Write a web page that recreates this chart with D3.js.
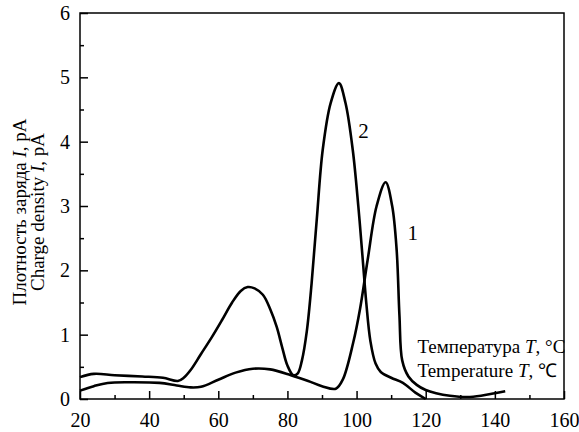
<!DOCTYPE html>
<html>
<head>
<meta charset="utf-8">
<script src="https://cdn.jsdelivr.net/npm/d3@7"></script>
<style>
  body { margin: 0; background: #fff; }
  svg text { font-family: "Liberation Serif", "Times New Roman", serif; fill: #000; }
</style>
</head>
<body>
<svg id="chart" width="579" height="432"></svg>
<script>
// curve 1: temperature (°C) and charge density (pA)
let temp1 = [20, 24, 28, 35, 43, 48, 52, 55, 60, 65, 70, 75, 81, 86, 90, 94, 96, 99, 101, 103.2, 105.8, 108.4, 110.3, 111.6, 112.4, 113.2, 115, 117.4, 120, 123, 127, 132, 136, 140, 143]
let dens1 = [0.13, 0.2, 0.25, 0.26, 0.25, 0.21, 0.18, 0.19, 0.3, 0.41, 0.47, 0.46, 0.37, 0.28, 0.2, 0.16, 0.3, 0.87, 1.4, 2.16, 3.0, 3.37, 3.0, 2.31, 1.3, 0.6, 0.35, 0.22, 0.14, 0.09, 0.05, 0.03, 0.05, 0.09, 0.12]

// curve 2
let temp2 = [20, 24, 30, 38, 44, 48.3, 50, 52, 55, 58, 61, 64, 66.5, 68.5, 70.5, 72.9, 75, 76.9, 78.5, 80, 81.7, 83, 84.2, 85.6, 87, 88.5, 90.2, 92.5, 94.9, 96.8, 98.9, 100.5, 101.8, 102.8, 104, 105.5, 107, 110, 113.4, 117, 120]
let dens2 = [0.34, 0.39, 0.37, 0.35, 0.33, 0.28, 0.33, 0.45, 0.7, 0.95, 1.22, 1.5, 1.68, 1.74, 1.72, 1.62, 1.4, 1.12, 0.8, 0.52, 0.37, 0.4, 0.6, 1.05, 1.8, 2.8, 3.87, 4.6, 4.91, 4.6, 3.87, 3.0, 2.16, 1.5, 0.9, 0.55, 0.42, 0.33, 0.25, 0.1, 0.0]

let xTicks = [20, 40, 60, 80, 100, 120, 140, 160]
let yTicks = [0, 1, 2, 3, 4, 5, 6]

let margin = {top: 13, right: 15, bottom: 33, left: 80},
    width = 579 - margin.left - margin.right,
    height = 432 - margin.top - margin.bottom

let svg = d3.select('svg#chart')

let g = svg.append('g')
  .attr('transform', `translate(${margin.left}, ${margin.top})`)

let xScale = d3.scaleLinear().domain([20, 160]).range([0, width])
let yScale = d3.scaleLinear().domain([0, 6]).range([height, 0])

// frame
g.append('rect')
  .attr('width', width)
  .attr('height', height)
  .attr('fill', 'none')
  .attr('stroke', '#000')
  .attr('stroke-width', 1.5)

// bottom axis: minor + major ticks, pointing inward
g.append('g')
  .attr('transform', `translate(0, ${height})`)
  .call(d3.axisBottom(xScale).tickValues(d3.range(30, 160, 20)).tickSize(-4).tickFormat(''))
  .call(a => a.select('.domain').remove())
g.append('g')
  .attr('class', 'xaxis')
  .attr('transform', `translate(0, ${height})`)
  .call(d3.axisBottom(xScale).tickValues(xTicks).tickSize(-8).tickPadding(14).tickFormat(d3.format('d')))
  .call(a => a.select('.domain').remove())

// left axis
g.append('g')
  .call(d3.axisLeft(yScale).tickValues(d3.range(0.5, 6, 1)).tickSize(-4).tickFormat(''))
  .call(a => a.select('.domain').remove())
g.append('g')
  .attr('class', 'yaxis')
  .call(d3.axisLeft(yScale).tickValues(yTicks).tickSize(-8).tickPadding(10).tickFormat(d3.format('d')))
  .call(a => a.select('.domain').remove())

g.selectAll('.tick line').attr('stroke', '#000').attr('stroke-width', 1.5)
g.selectAll('.tick text')
  .style('font-size', '20px')
  .style('font-family', '"Liberation Serif", serif')

// curves
let line = d3.line()
  .x(d => xScale(d[0]))
  .y(d => yScale(d[1]))
  .curve(d3.curveCatmullRom.alpha(0.5))

let series = [
  d3.zip(temp1, dens1),
  d3.zip(temp2, dens2)
]

g.selectAll('path.curve')
  .data(series)
  .enter()
  .append('path')
  .attr('class', 'curve')
  .attr('d', line)
  .attr('fill', 'none')
  .attr('stroke', '#000')
  .attr('stroke-width', 2.6)

// curve numbers
g.append('text')
  .attr('x', xScale(100.5))
  .attr('y', yScale(4.06))
  .style('font-size', '21px')
  .text('2')
g.append('text')
  .attr('x', xScale(114.7))
  .attr('y', yScale(2.47))
  .style('font-size', '21px')
  .text('1')

// x axis label (two languages)
let xl1 = g.append('text')
  .attr('x', xScale(117.6))
  .attr('y', yScale(0.71))
  .style('font-size', '19px')
xl1.append('tspan').text('Температура ')
xl1.append('tspan').attr('font-style', 'italic').text('T')
xl1.append('tspan').text(', °C')

let xl2 = g.append('text')
  .attr('x', xScale(117.6))
  .attr('y', yScale(0.34))
  .style('font-size', '19px')
xl2.append('tspan').text('Temperature ')
xl2.append('tspan').attr('font-style', 'italic').text('T')
xl2.append('tspan').text(',  ℃')

// y axis label
let yl = svg.append('text')
  .attr('transform', `translate(0, ${margin.top + height / 2 + 6}) rotate(-90)`)
  .attr('text-anchor', 'middle')
  .style('font-size', '19px')
let yl1 = yl.append('tspan').attr('x', 0).attr('y', 26)
yl1.append('tspan').text('Плотность заряда ')
yl1.append('tspan').attr('font-style', 'italic').text('I')
yl1.append('tspan').text(', pA')
let yl2 = yl.append('tspan').attr('x', 0).attr('y', 44)
yl2.append('tspan').text('Charge density ')
yl2.append('tspan').attr('font-style', 'italic').text('I')
yl2.append('tspan').text(', pA')
</script>
</body>
</html>
